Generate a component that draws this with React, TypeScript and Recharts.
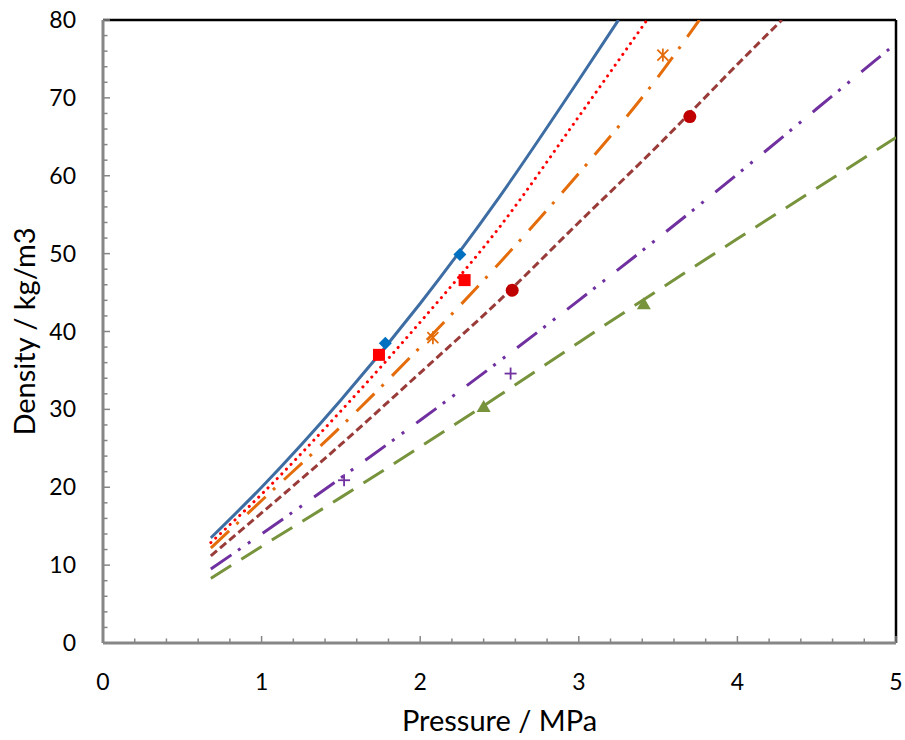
import React from 'react';
import { ComposedChart, Line, Scatter, XAxis, YAxis, ReferenceLine } from 'recharts';

const FONT = 'Lato, "Open Sans", "DejaVu Sans", sans-serif';

// Tick values (minor + major)
const xTicks = [0, 0.2, 0.4, 0.6, 0.8, 1, 1.2, 1.4, 1.6, 1.8, 2, 2.2, 2.4, 2.6, 2.8, 3, 3.2, 3.4, 3.6, 3.8, 4, 4.2, 4.4, 4.6, 4.8, 5];
const yTicks = [0, 2, 4, 6, 8, 10, 12, 14, 16, 18, 20, 22, 24, 26, 28, 30, 32, 34, 36, 38, 40, 42, 44, 46, 48, 50, 52, 54, 56, 58, 60, 62, 64, 66, 68, 70, 72, 74, 76, 78, 80];
const xLabelTicks = [0, 1, 2, 3, 4, 5];
const yLabelTicks = [0, 10, 20, 30, 40, 50, 60, 70, 80];

// Curves (pressure MPa, density kg/m3)
const blueLine = [
  { p: 0.68, d: 13.5 }, { p: 1, d: 20.0 }, { p: 1.5, d: 31.2 }, { p: 2, d: 43.6 },
  { p: 2.5, d: 57.3 }, { p: 3, d: 72.3 }, { p: 3.25, d: 80 },
];
const redLine = [
  { p: 0.68, d: 12.9 }, { p: 1, d: 19.1 }, { p: 1.5, d: 29.8 }, { p: 2, d: 41.2 },
  { p: 2.5, d: 53.4 }, { p: 3, d: 67.6 }, { p: 3.43, d: 80 },
];
const orangeLine = [
  { p: 0.68, d: 12.2 }, { p: 1, d: 18.3 }, { p: 1.5, d: 27.8 }, { p: 2, d: 38.0 },
  { p: 2.5, d: 48.8 }, { p: 3, d: 60.3 }, { p: 3.5, d: 72.7 }, { p: 3.76, d: 80 },
];
const brownLine = [
  { p: 0.68, d: 11.2 }, { p: 1, d: 16.7 }, { p: 1.5, d: 25.5 }, { p: 2, d: 34.7 },
  { p: 2.5, d: 44.0 }, { p: 3, d: 54.0 }, { p: 3.5, d: 63.9 }, { p: 4, d: 74.3 }, { p: 4.28, d: 80 },
];
const purpleLine = [
  { p: 0.68, d: 9.5 }, { p: 1, d: 14.0 }, { p: 1.5, d: 21.2 }, { p: 2, d: 28.6 },
  { p: 2.5, d: 36.2 }, { p: 3, d: 44.0 }, { p: 3.5, d: 52.0 }, { p: 4, d: 60.2 },
  { p: 4.5, d: 68.6 }, { p: 5, d: 77.0 },
];
const greenLine = [
  { p: 0.68, d: 8.3 }, { p: 1, d: 12.4 }, { p: 1.5, d: 18.7 }, { p: 2, d: 25.2 },
  { p: 2.5, d: 31.8 }, { p: 3, d: 38.6 }, { p: 3.5, d: 45.3 }, { p: 4, d: 51.9 },
  { p: 4.5, d: 58.4 }, { p: 5, d: 64.9 },
];

// Measured points
const blueMarks = [{ p: 1.78, d: 38.5 }, { p: 2.25, d: 49.9 }];
const redSquares = [{ p: 1.74, d: 37.0 }, { p: 2.28, d: 46.6 }];
const orangeStars = [{ p: 2.08, d: 39.2 }, { p: 3.53, d: 75.5 }];
const redCircles = [{ p: 2.58, d: 45.3 }, { p: 3.70, d: 67.6 }];
const purplePlus = [{ p: 1.52, d: 20.9 }, { p: 2.57, d: 34.6 }];
const greenTriangles = [{ p: 2.40, d: 30.3 }, { p: 3.41, d: 43.5 }];

const AXIS_GREY = '#868686';
const X_MARGIN = 30;
const Y_MARGIN = 30;

const XTick = (props: any) => {
  const { x, y, payload } = props;
  const axisY = y - X_MARGIN;
  const v = payload.value;
  const major = xLabelTicks.some((t) => Math.abs(t - v) < 1e-6);
  return (
    <g>
      <line x1={x} x2={x} y1={axisY} y2={axisY - (major ? 7 : 4.5)} stroke={AXIS_GREY} strokeWidth={1.5} />
      {major && (
        <text x={x} y={axisY + 47} textAnchor="middle" fontFamily={FONT} fontSize={23} fill="#000">
          {Math.round(v)}
        </text>
      )}
    </g>
  );
};

const YTick = (props: any) => {
  const { x, y, payload } = props;
  const axisX = x + Y_MARGIN;
  const v = payload.value;
  const major = yLabelTicks.some((t) => Math.abs(t - v) < 1e-6);
  return (
    <g>
      <line x1={axisX} x2={axisX + (major ? 7 : 4.5)} y1={y} y2={y} stroke={AXIS_GREY} strokeWidth={1.5} />
      {major && (
        <text x={axisX - 27} y={y + 8} textAnchor="end" fontFamily={FONT} fontSize={23} fill="#000">
          {Math.round(v)}
        </text>
      )}
    </g>
  );
};

const XTitle = (props: any) => {
  const vb = props.viewBox || {};
  return (
    <text x={vb.x + vb.width / 2} y={vb.y + 88} textAnchor="middle" fontFamily={FONT} fontSize={29} fill="#000">
      Pressure / MPa
    </text>
  );
};

const YTitle = (props: any) => {
  const vb = props.viewBox || {};
  const cx = 35;
  const cy = vb.y + vb.height / 2;
  return (
    <text x={cx} y={cy} transform={`rotate(-90 ${cx} ${cy})`} textAnchor="middle" fontFamily={FONT} fontSize={29} fill="#000">
      Density / kg/m3
    </text>
  );
};

const Diamond = (props: any) => {
  const { cx, cy } = props;
  const s = 6.5;
  return <polygon points={`${cx},${cy - s} ${cx + s},${cy} ${cx},${cy + s} ${cx - s},${cy}`} fill="#0070C0" />;
};
const Square = (props: any) => {
  const { cx, cy } = props;
  return <rect x={cx - 6} y={cy - 6} width={12} height={12} fill="#FF0000" />;
};
const Star = (props: any) => {
  const { cx, cy } = props;
  const s = 5.5;
  return (
    <g stroke="#E46C0A" strokeWidth={1.8}>
      <line x1={cx - s} y1={cy - s} x2={cx + s} y2={cy + s} />
      <line x1={cx - s} y1={cy + s} x2={cx + s} y2={cy - s} />
      <line x1={cx} y1={cy - s - 1} x2={cx} y2={cy + s + 1} />
    </g>
  );
};
const Circle = (props: any) => {
  const { cx, cy } = props;
  return <circle cx={cx} cy={cy} r={6.5} fill="#C00000" />;
};
const Plus = (props: any) => {
  const { cx, cy } = props;
  const s = 6;
  return (
    <g stroke="#7030A0" strokeWidth={1.8}>
      <line x1={cx - s} y1={cy} x2={cx + s} y2={cy} />
      <line x1={cx} y1={cy - s} x2={cx} y2={cy + s} />
    </g>
  );
};
const Triangle = (props: any) => {
  const { cx, cy } = props;
  return <polygon points={`${cx},${cy - 7} ${cx + 7},${cy + 5} ${cx - 7},${cy + 5}`} fill="#77933C" />;
};

export default function App() {
  return (
    <div style={{ position: 'absolute', left: 0, top: 0, width: 905, height: 740, background: '#fff' }}>
      <ComposedChart width={905} height={740} margin={{ top: 20, right: 9, left: 0, bottom: 0 }}>
        <XAxis
          dataKey="p"
          type="number"
          domain={[0, 5]}
          ticks={xTicks}
          interval={0}
          allowDataOverflow
          height={97}
          tickSize={0}
          tickMargin={X_MARGIN}
          tickLine={false}
          axisLine={{ stroke: AXIS_GREY, strokeWidth: 3 }}
          tick={<XTick />}
          label={{ content: <XTitle /> }}
        />
        <YAxis
          dataKey="d"
          type="number"
          domain={[0, 80]}
          ticks={yTicks}
          interval={0}
          allowDataOverflow
          width={103}
          tickSize={0}
          tickMargin={Y_MARGIN}
          tickLine={false}
          axisLine={{ stroke: AXIS_GREY, strokeWidth: 3 }}
          tick={<YTick />}
          label={{ content: <YTitle /> }}
        />
        <ReferenceLine y={80} stroke="#000" strokeWidth={2.5} />
        <ReferenceLine x={5} stroke="#000" strokeWidth={2.5} />

        <Line data={greenLine} dataKey="d" type="monotone" stroke="#77933C" strokeWidth={3} strokeDasharray="24 12" dot={false} isAnimationActive={false} />
        <Line data={purpleLine} dataKey="d" type="monotone" stroke="#7030A0" strokeWidth={3} strokeDasharray="25 8 3 9 3 15" dot={false} isAnimationActive={false} />
        <Line data={brownLine} dataKey="d" type="monotone" stroke="#993C39" strokeWidth={3} strokeDasharray="8 4" dot={false} isAnimationActive={false} />
        <Line data={orangeLine} dataKey="d" type="monotone" stroke="#E46C0A" strokeWidth={3} strokeDasharray="25 10 3 12" dot={false} isAnimationActive={false} />
        <Line data={redLine} dataKey="d" type="monotone" stroke="#FF0000" strokeWidth={3} strokeDasharray="0.1 6.5" strokeLinecap="round" dot={false} isAnimationActive={false} />
        <Line data={blueLine} dataKey="d" type="monotone" stroke="#3D6DA3" strokeWidth={3} dot={false} isAnimationActive={false} />

        <Scatter data={greenTriangles} dataKey="d" shape={<Triangle />} isAnimationActive={false} />
        <Scatter data={purplePlus} dataKey="d" shape={<Plus />} isAnimationActive={false} />
        <Scatter data={redCircles} dataKey="d" shape={<Circle />} isAnimationActive={false} />
        <Scatter data={orangeStars} dataKey="d" shape={<Star />} isAnimationActive={false} />
        <Scatter data={redSquares} dataKey="d" shape={<Square />} isAnimationActive={false} />
        <Scatter data={blueMarks} dataKey="d" shape={<Diamond />} isAnimationActive={false} />
      </ComposedChart>
    </div>
  );
}
